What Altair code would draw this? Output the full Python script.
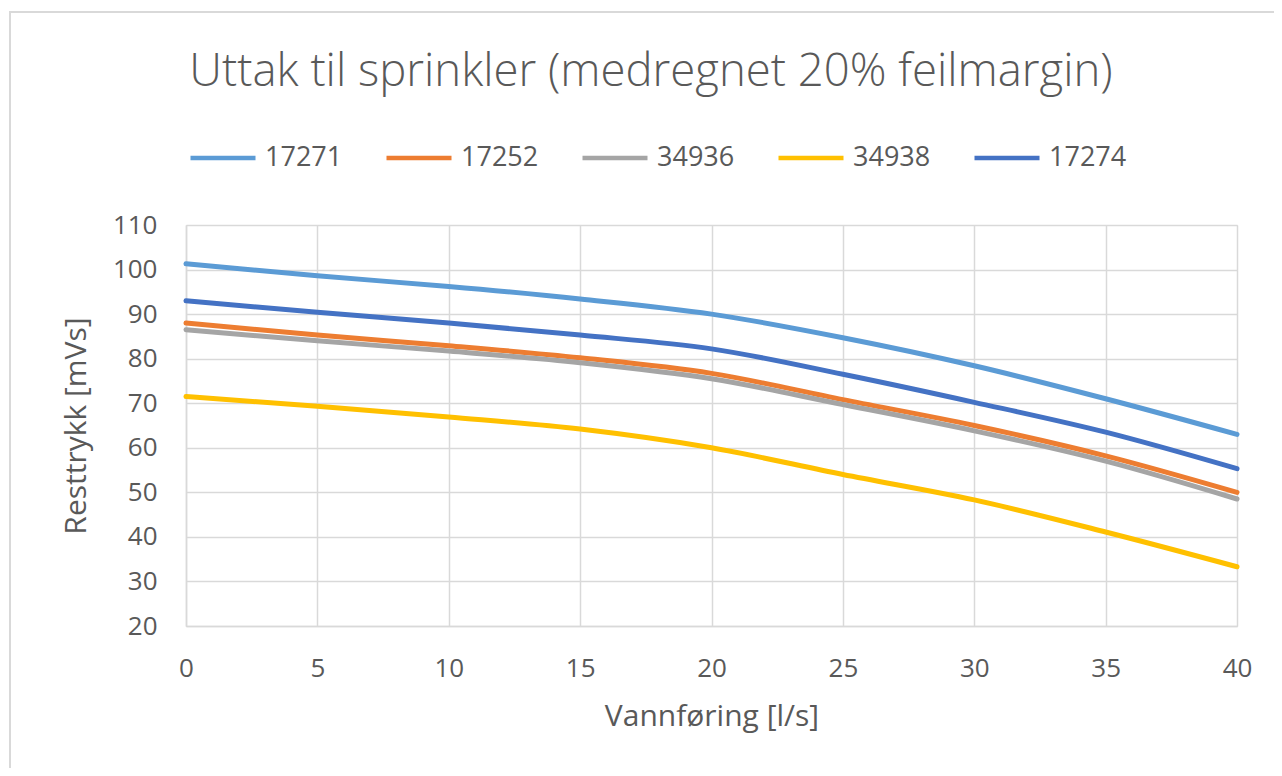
import altair as alt
import pandas as pd

x_vals = [0, 5, 10, 15, 20, 25, 30, 35, 40]
s17271 = [101.3, 98.6, 96.2, 93.4, 90.0, 84.7, 78.4, 71.0, 63.0]
s17252 = [88.0, 85.3, 82.9, 80.2, 76.7, 70.8, 65.0, 58.2, 50.0]
s34936 = [86.5, 84.0, 81.7, 79.1, 75.5, 69.7, 63.8, 57.0, 48.5]
s34938 = [71.5, 69.3, 66.9, 64.2, 60.0, 54.0, 48.3, 41.1, 33.3]
s17274 = [93.0, 90.4, 88.0, 85.3, 82.2, 76.5, 70.2, 63.5, 55.3]

series_names = ["17271", "17252", "34936", "34938", "17274"]
series_vals = [s17271, s17252, s34936, s34938, s17274]
colors = ["#5B9BD5", "#ED7D31", "#A5A5A5", "#FFC000", "#4472C4"]

x_ticks = [0, 5, 10, 15, 20, 25, 30, 35, 40]
y_ticks = [20, 30, 40, 50, 60, 70, 80, 90, 100, 110]

title_text = "Uttak til sprinkler (medregnet 20% feilmargin)"
x_title = "Vannføring [l/s]"
y_title = "Resttrykk [mVs]"

rows = []
for i, (name, vals) in enumerate(zip(series_names, series_vals)):
    for x, v in zip(x_vals, vals):
        rows.append({"x": x, "y": v, "serie": name, "ord": i})
df = pd.DataFrame(rows)

FONT = "Open Sans"
TXT = "#595959"
GRID = "#d9d9d9"

frame = alt.Chart(pd.DataFrame({"a": [0]})).mark_rect(
    fill=None, fillOpacity=0, stroke=GRID, strokeWidth=2
).encode(
    x=alt.value(-176), x2=alt.value(1094), y=alt.value(-213), y2=alt.value(600)
)

title = alt.Chart(pd.DataFrame({"t": [title_text]})).mark_text(
    font=FONT, fontSize=45.5, fontWeight=300, color=TXT, align="center",
    baseline="alphabetic"
).encode(
    text="t:N", x=alt.value(465), y=alt.value(-139)
)

lines = alt.Chart(df).mark_line(
    interpolate="monotone", strokeWidth=5, strokeCap="round"
).encode(
    x=alt.X("x:Q",
            scale=alt.Scale(domain=[0, 40], nice=False, zero=False),
            axis=alt.Axis(title=x_title, values=x_ticks, grid=True,
                          gridColor=GRID, gridWidth=1.5,
                          domainColor=GRID, domainWidth=1.5,
                          ticks=False, tickSize=0, labelFlush=False,
                          labelFont=FONT, labelFontSize=26, labelColor=TXT,
                          labelPadding=29,
                          titleFont=FONT, titleFontSize=30, titleColor=TXT,
                          titleFontWeight="normal", titlePadding=20)),
    y=alt.Y("y:Q",
            scale=alt.Scale(domain=[20, 110], nice=False, zero=False),
            axis=alt.Axis(title=y_title, values=y_ticks, grid=True,
                          gridColor=GRID, gridWidth=1.5,
                          domainColor=GRID, domainWidth=1.5,
                          ticks=False, tickSize=0,
                          labelFont=FONT, labelFontSize=26, labelColor=TXT,
                          labelPadding=29,
                          titleFont=FONT, titleFontSize=30, titleColor=TXT,
                          titleFontWeight="normal", titlePadding=21)),
    color=alt.Color("serie:N",
                    scale=alt.Scale(domain=series_names, range=colors),
                    sort=series_names,
                    legend=alt.Legend(title=None, orient="none",
                                      legendX=2, legendY=-102,
                                      direction="horizontal",
                                      symbolType="stroke", symbolSize=4225,
                                      symbolStrokeWidth=4.5,
                                      labelFont=FONT, labelFontSize=27,
                                      labelColor=TXT, labelOffset=7,
                                      columnPadding=34)),
    detail="ord:O",
    order="ord:Q",
)

chart = alt.layer(frame, title, lines).properties(
    width=1051,
    height=401,
    autosize=alt.AutoSizeParams(type="none"),
    padding={"left": 178, "top": 217, "right": 37, "bottom": 142},
).configure_view(stroke=None).configure(background="white")

chart.save("out.html", embed_options={"renderer": "svg", "actions": False})
